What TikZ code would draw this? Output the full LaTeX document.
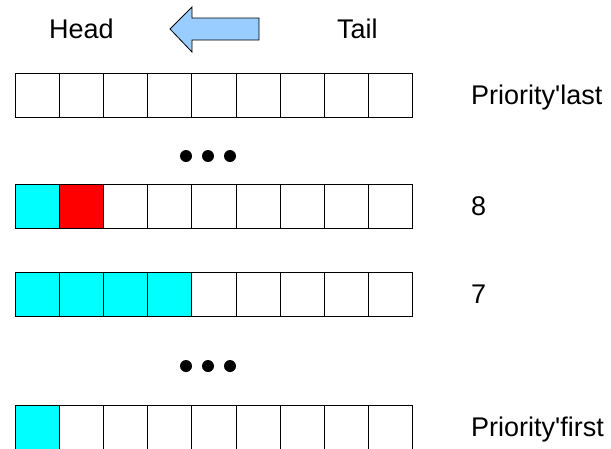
\documentclass[tikz,border=0pt]{standalone}
\usepackage{fontspec}
\setmainfont{Liberation Sans}[Ligatures=TeXOff]
\definecolor{qcyan}{HTML}{00FFFF}
\definecolor{qred}{HTML}{FF0000}
\definecolor{qarrow}{HTML}{99CCFF}
\begin{document}
\begin{tikzpicture}[x=1pt,y=-1pt,
  cell/.style={draw=black,line width=1pt,minimum width=44.2pt,minimum height=44pt,inner sep=0pt,outer sep=0pt,anchor=north west},
  lbl/.style={font=\fontsize{27}{30}\selectfont,anchor=base west,inner sep=0pt},
  bigdot/.style={circle,fill=black,minimum size=12pt,inner sep=0pt}]
\useasboundingbox (0,0) rectangle (611,448);
% header
\node[lbl] (head) at (49,38) {Head};
\node[lbl] (tail) at (337,38) {Tail};
\draw[fill=qarrow,draw=black,line width=0.8pt,line join=miter]
  (170,29) -- (192,7) -- (192,18) -- (259,18) -- (259,40) -- (192,40) -- (192,52) -- cycle;
% rows
\foreach \i in {0,...,8} \node[cell,fill=white] (a\i) at ({15+44.2*\i},73) {};
\foreach \i/\c in {0/qcyan,1/qred,2/white,3/white,4/white,5/white,6/white,7/white,8/white}
  \node[cell,fill=\c] (b\i) at ({15+44.2*\i},184) {};
\foreach \i/\c in {0/qcyan,1/qcyan,2/qcyan,3/qcyan,4/white,5/white,6/white,7/white,8/white}
  \node[cell,fill=\c] (c\i) at ({15+44.2*\i},272) {};
\foreach \i/\c in {0/qcyan,1/white,2/white,3/white,4/white,5/white,6/white,7/white,8/white}
  \node[cell,fill=\c] (d\i) at ({15+44.2*\i},405) {};
% dots
\foreach \k/\x in {1/186,2/208,3/230} {
  \node[bigdot] (u\k) at (\x,156) {};
  \node[bigdot] (v\k) at (\x,366) {};
}
% labels
\node[lbl] (plast) at (471,104.7) {Priority'last};
\node[lbl] (p8) at (471,215.7) {8};
\node[lbl] (p7) at (471,303.7) {7};
\node[lbl] (pfirst) at (471,436.7) {Priority'first};
\end{tikzpicture}
\end{document}
